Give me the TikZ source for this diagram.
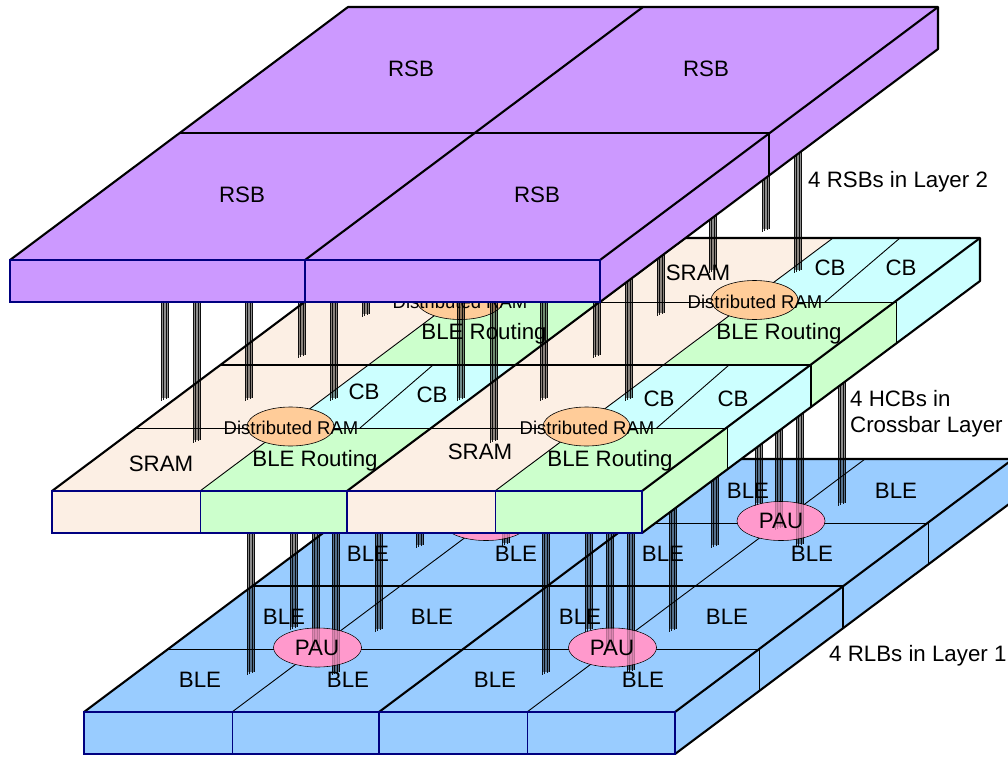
\documentclass[tikz,border=0pt]{standalone}
\usepackage{fontspec}
\usetikzlibrary{shapes.geometric}
\setmainfont{Liberation Sans}
\definecolor{rsbc}{HTML}{CC99FF}
\definecolor{rlbc}{HTML}{99CCFF}
\definecolor{sramc}{HTML}{FCEFE4}
\definecolor{blerc}{HTML}{CCFFCC}
\definecolor{cbc}{HTML}{CCFFFF}
\definecolor{dramc}{HTML}{FFCC99}
\definecolor{pauc}{HTML}{FF99CC}
\definecolor{navyc}{HTML}{000080}
\tikzset{
  thickedge/.style={draw=black,line width=2.1pt,line join=round},
  thinedge/.style={draw=black,line width=0.9pt},
  frontedge/.style={draw=navyc,line width=2.1pt,line join=miter},
  frontthin/.style={draw=navyc,line width=1pt},
  lbl/.style={inner sep=0pt,font=\fontsize{22.3}{26}\selectfont},
  lblsmall/.style={inner sep=0pt,font=\fontsize{18.5}{22}\selectfont},
  side/.style={lbl,anchor=west},
  viawire/.style={draw=black,line width=1.1pt,opacity=.9},
  viashade/.style={fill=black,opacity=.45},
  blob/.style={draw=black,line width=0.6pt,ellipse,inner sep=0pt},
  paublob/.style={blob,fill=pauc,minimum width=88pt,minimum height=39pt},
  ramblob/.style={blob,fill=dramc,minimum width=87pt,minimum height=39pt},
}
\newcommand{\viabundle}[3]{%
  \fill[viashade] ({#1},#2) rectangle ({#1+8},{#3-3});
  \foreach \k in {0,1,2,3}{%
    \draw[viawire] ({#1+0.5+\k*2.35},#2) -- ({#1+0.5+\k*2.35},{#3-\k});
  }%
}
\begin{document}
\begin{tikzpicture}[x=1pt,y=-1pt]
\useasboundingbox (0,0) rectangle (1008,757);
\clip (0,0) rectangle (1008,757);

% ---------- Layer 1 : RLBs ----------
\fill[rlbc] (84,712) -- (422,459) -- (1013,459) -- (1013,501) -- (675,754) -- (84,754) -- cycle;
\draw[thinedge] (168,649.5) -- (759,649.5) (337.5,523) -- (928,523);
\draw[thinedge] (232,712) -- (570,459) (527,712) -- (865,459);
\draw[thinedge] (759,649.5) -- (759,691) (928,523) -- (928,564);
\draw[thickedge] (84,712) -- (422,459) -- (1013,459);
\draw[thickedge] (253,586) -- (843,586);
\draw[thickedge] (379,712) -- (717,459);
\draw[thickedge] (675,712) -- (1013,459);
\draw[thickedge] (675,754) -- (1013,501);
\draw[thickedge] (843,586) -- (843,628);
\draw[frontthin] (232,712) -- (232,754) (527,712) -- (527,754);
\draw[frontedge] (379,712) -- (379,754);
\draw[frontedge] (84,712) rectangle (675,754);

\node[paublob] (pauA) at (317.5,647.5) {};
\node[paublob] (pauB) at (612.5,647.5) {};
\node[paublob] (pauC) at (486,521) {};
\node[paublob] (pauD) at (781,521) {};

\foreach \vx/\vt/\vb in {247/520/675,290/520/630,312/520/650,332/520/675,375/520/632,416/520/548,
  502/520/546,542/520/675,585/520/632,606/520/650,627/520/673,669/503/632,711/470/548,
  755/438/506,775/423/530,796/408/547,838/376/506}{
  \viabundle{\vx}{\vt}{\vb}
}
\foreach \e in {pauA,pauB,pauC,pauD}{
  \fill[pauc,fill opacity=.72] (\e.center) ellipse [x radius=43.5pt,y radius=19pt];
}
\node[lbl] (pautA) at (317,648) {PAU};
\node[lbl] (pautB) at (612,648) {PAU};
\node[lbl] (pautD) at (781,521) {PAU};
\node[lbl] (b1) at (200,680) {BLE};
\node[lbl] (b2) at (348,680) {BLE};
\node[lbl] (b3) at (284,617) {BLE};
\node[lbl] (b4) at (432,617) {BLE};
\node[lbl] (b5) at (495,680) {BLE};
\node[lbl] (b6) at (643,680) {BLE};
\node[lbl] (b7) at (580,617) {BLE};
\node[lbl] (b8) at (727,617) {BLE};
\node[lbl] (b9) at (368,554) {BLE};
\node[lbl] (b10) at (516,554) {BLE};
\node[lbl] (b11) at (663,554) {BLE};
\node[lbl] (b12) at (812,554) {BLE};
\node[lbl] (b13) at (748,491) {BLE};
\node[lbl] (b14) at (896,491) {BLE};

% ---------- Crossbar layer : HCBs ----------
% top face strips
\fill[sramc] (52,491) -- (390,238) -- (538,238) -- (200,491) -- cycle;
\fill[sramc] (347,491) -- (685,238) -- (833,238) -- (495,491) -- cycle;
\fill[blerc] (200,491) -- (284.5,428) -- (431.5,428) -- (347,491) -- cycle;
\fill[cbc]   (284.5,428) -- (369,365) -- (516,365) -- (431.5,428) -- cycle;
\fill[blerc] (369,365) -- (453.5,302) -- (600.5,302) -- (516,365) -- cycle;
\fill[cbc]   (453.5,302) -- (538,238) -- (685,238) -- (600.5,302) -- cycle;
\fill[blerc] (495,491) -- (579.5,428) -- (726.5,428) -- (642,491) -- cycle;
\fill[cbc]   (579.5,428) -- (664,365) -- (811,365) -- (726.5,428) -- cycle;
\fill[blerc] (664,365) -- (748.5,302) -- (895.5,302) -- (811,365) -- cycle;
\fill[cbc]   (748.5,302) -- (833,238) -- (980,238) -- (895.5,302) -- cycle;
% right side
\fill[blerc] (642,491) -- (727,428) -- (727,470) -- (642,533) -- cycle;
\fill[cbc]   (727,428) -- (811,365) -- (811,407) -- (727,470) -- cycle;
\fill[blerc] (811,365) -- (896,302) -- (896,344) -- (811,407) -- cycle;
\fill[cbc]   (896,302) -- (980,238) -- (980,281) -- (896,344) -- cycle;
% front
\fill[sramc] (52,491) rectangle (200,533);
\fill[blerc] (200,491) rectangle (347,533);
\fill[sramc] (347,491) rectangle (495,533);
\fill[blerc] (495,491) rectangle (642,533);
% lines
\draw[thinedge] (136.5,428) -- (726.5,428) (305,302) -- (895.5,302);
\draw[thinedge] (200,491) -- (538,238) (495,491) -- (833,238);
\draw[thinedge] (360,428) -- (433,365) (656.7,428) -- (729,365)
                (529,302) -- (602,238) (825,302) -- (900,238);
\draw[thinedge] (727,428) -- (727,470) (896,302) -- (896,344);
\draw[thickedge] (52,491) -- (390,238) -- (980,238) -- (980,281) -- (642,533);
\draw[thickedge] (221,365) -- (811,365) -- (811,407);
\draw[thickedge] (347,491) -- (685,238);
\draw[thickedge] (642,491) -- (980,238);
\draw[frontthin] (200,491) -- (200,533) (495,491) -- (495,533);
\draw[frontedge] (347,491) -- (347,533);
\draw[frontedge] (52,491) rectangle (642,533);

\node[ramblob] (dA) at (290.5,426.5) {};
\node[ramblob] (dB) at (586.5,426.5) {};
\node[ramblob] (dC) at (460,300) {};
\node[ramblob] (dD) at (754.5,300) {};
\node[lblsmall] (dtA) at (291,427.5) {Distributed RAM};
\node[lblsmall] (dtB) at (587,427.5) {Distributed RAM};
\node[lblsmall] (dtC) at (460,301.5) {Distributed RAM};
\node[lblsmall] (dtD) at (755,301.5) {Distributed RAM};
\node[lbl] (s1) at (161,464) {SRAM};
\node[lbl] (s2) at (480,452) {SRAM};
\node[lbl] (s3) at (698,273) {SRAM};
\node[lbl] (r1) at (315,460.3) {BLE Routing};
\node[lbl] (r2) at (610,460.3) {BLE Routing};
\node[lbl] (r3) at (484,334) {BLE Routing};
\node[lbl] (r4) at (779,334) {BLE Routing};
\node[lbl] (c1) at (364,392) {CB};
\node[lbl] (c2) at (432,395) {CB};
\node[lbl] (c3) at (659,399) {CB};
\node[lbl] (c4) at (733,399) {CB};
\node[lbl] (c5) at (830,268) {CB};
\node[lbl] (c6) at (901,268) {CB};

\foreach \vx/\vt/\vb in {161/290/401,193/290/443,245/290/401,298/290/358,330/290/401,362/290/317,
  457/290/401,490/290/443,540/290/401,593/290/358,625/270/401,657/247/316,709/207/273,762/165/232,794/143/273}{
  \viabundle{\vx}{\vt}{\vb}
}

% ---------- Layer 2 : RSBs ----------
\fill[rsbc] (10,260) -- (348,7) -- (938,7) -- (938,49) -- (600,302) -- (10,302) -- cycle;
\draw[thickedge] (10,260) -- (348,7) -- (938,7) -- (938,49) -- (600,302);
\draw[thickedge] (179,133) -- (769,133) -- (769,175);
\draw[thickedge] (305,260) -- (643,7);
\draw[thickedge] (600,260) -- (938,7);
\draw[frontedge] (305,260) -- (305,302);
\draw[frontedge] (10,260) rectangle (600,302);
\node[lbl] (q1) at (411,68.5) {RSB};
\node[lbl] (q2) at (706,68.5) {RSB};
\node[lbl] (q3) at (242,194.5) {RSB};
\node[lbl] (q4) at (537,194.5) {RSB};

% ---------- Side labels ----------
\node[side] (l2) at (808,181.8) {4 RSBs in Layer 2};
\node[side] (hA) at (850,398.5) {4 HCBs in};
\node[side] (hB) at (850,427) {Crossbar Layer};
\node[side] (l1) at (829,656) {4 RLBs in Layer 1};
\end{tikzpicture}
\end{document}
